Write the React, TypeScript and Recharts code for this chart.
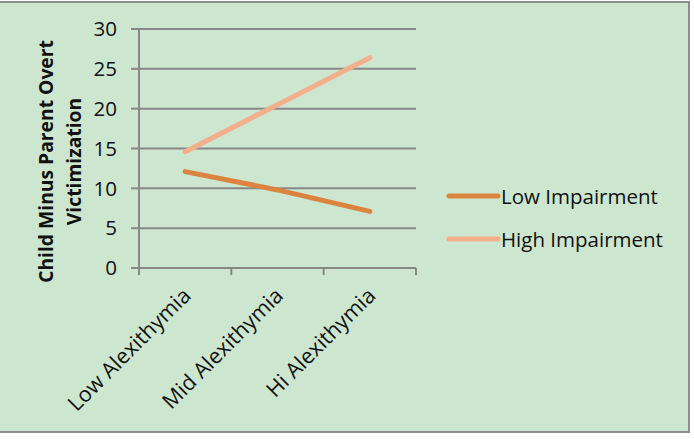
import { CartesianGrid, Legend, Line, LineChart, XAxis, YAxis } from "recharts"

const categories = ["Low Alexithymia", "Mid Alexithymia", "Hi Alexithymia"]
const lowImpairment = [12.1, 9.8, 7.1]
const highImpairment = [14.6, 20.5, 26.4]
const yTicks = [0, 5, 10, 15, 20, 25, 30]

const seriesNames = ["Low Impairment", "High Impairment"]
const seriesColors = ["#da843f", "#f3af8c"]

const data = categories.map((name, i) => ({
  name,
  low: lowImpairment[i],
  high: highImpairment[i],
}))

const FONT = "'Open Sans', sans-serif"
const GRID = "#878787"
const PLOT_W = 277

function CategoryTick(props: any) {
  const { x, y, payload, index } = props
  const half = PLOT_W / categories.length / 2
  const tx = x + 7
  const ty = y + 29
  return (
    <g>
      <line x1={x - half} y1={y} x2={x - half} y2={y + 7} stroke={GRID} strokeWidth={2} />
      {index === categories.length - 1 && (
        <line x1={x + half} y1={y} x2={x + half} y2={y + 7} stroke={GRID} strokeWidth={2} />
      )}
      <text
        x={tx}
        y={ty}
        transform={`rotate(-45, ${tx}, ${ty})`}
        textAnchor="end"
        fontFamily={FONT}
        fontSize={21.5}
        fill="#111"
      >
        {payload.value}
      </text>
    </g>
  )
}

function YTitle(props: any) {
  const vb = props.viewBox || {}
  const cy = vb.y + vb.height / 2 + 13
  return (
    <g fontFamily={FONT} fontSize={19.3} fontWeight="bold" fill="#111" textAnchor="middle">
      <text x={53} y={cy} transform={`rotate(-90, 53, ${cy})`}>
        Child Minus Parent Overt
      </text>
      <text x={81} y={cy} transform={`rotate(-90, 81, ${cy})`}>
        Victimization
      </text>
    </g>
  )
}

function LegendBox() {
  return (
    <div style={{ fontFamily: FONT, fontSize: 20.5, color: "#111" }}>
      {seriesNames.map((n, i) => (
        <div key={n} style={{ display: "flex", alignItems: "center", height: 43 }}>
          <svg width={55} height={10} style={{ display: "block" }}>
            <line x1={3} y1={5} x2={52} y2={5} stroke={seriesColors[i]} strokeWidth={5} strokeLinecap="round" />
          </svg>
          <span style={{ whiteSpace: "nowrap" }}>{n}</span>
        </div>
      ))}
    </div>
  )
}

export default function App() {
  return (
    <div style={{ position: "absolute", left: 0, top: 0, width: 694, height: 439, background: "#fff" }}>
      <div
        style={{
          position: "absolute",
          left: 0,
          top: 1,
          width: 690,
          height: 432,
          boxSizing: "border-box",
          background: "#cde6cf",
          borderTop: "2px solid #8e8e8e",
          borderRight: "2px solid #8e8e8e",
          borderBottom: "2px solid #8e8e8e",
        }}
      />
      <div style={{ position: "absolute", left: 0, top: 0 }}>
        <LineChart width={694} height={439} data={data} margin={{ top: 29, right: 278, bottom: 0, left: 0 }}>
          <CartesianGrid vertical={false} stroke={GRID} strokeWidth={2} />
          <XAxis
            dataKey="name"
            scale="band"
            height={171}
            axisLine={{ stroke: GRID, strokeWidth: 2 }}
            tickLine={false}
            tickSize={0}
            tickMargin={0}
            interval={0}
            tick={<CategoryTick />}
          />
          <YAxis
            width={139}
            domain={[0, 30]}
            ticks={yTicks}
            interval={0}
            axisLine={{ stroke: GRID, strokeWidth: 2 }}
            tickLine={{ stroke: GRID, strokeWidth: 2 }}
            tickSize={8}
            tickMargin={14}
            tick={{ fontFamily: FONT, fontSize: 20.5, fill: "#111" }}
            label={<YTitle />}
          />
          <Legend
            layout="vertical"
            align="center"
            verticalAlign="middle"
            content={<LegendBox />}
            wrapperStyle={{ left: 446, top: 174, width: 244 }}
          />
          <Line
            type="linear"
            dataKey="low"
            name={seriesNames[0]}
            stroke={seriesColors[0]}
            strokeWidth={5}
            strokeLinecap="round"
            dot={false}
            activeDot={false}
            isAnimationActive={false}
          />
          <Line
            type="linear"
            dataKey="high"
            name={seriesNames[1]}
            stroke={seriesColors[1]}
            strokeWidth={5}
            strokeLinecap="round"
            dot={false}
            activeDot={false}
            isAnimationActive={false}
          />
        </LineChart>
      </div>
    </div>
  )
}
